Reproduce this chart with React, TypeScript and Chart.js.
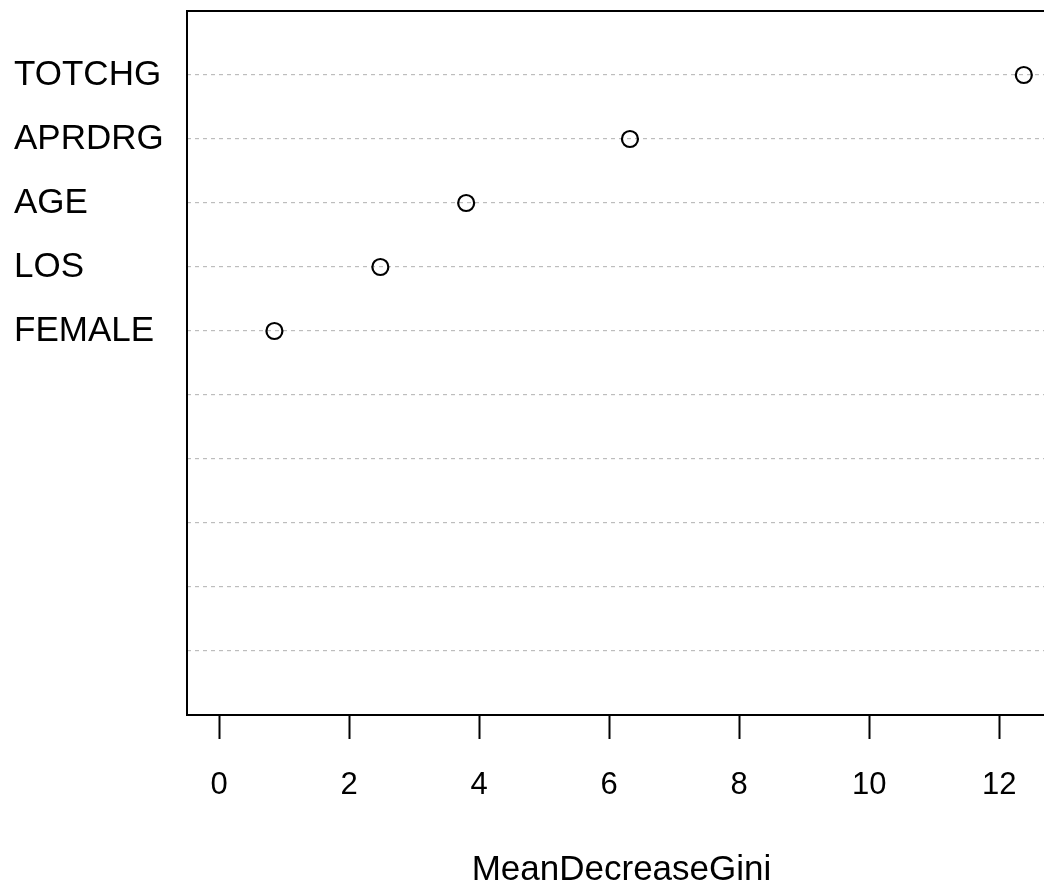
import React, { useEffect, useRef } from "react";
import { Chart, registerables } from "chart.js";

Chart.register(...registerables);

const variables = ["TOTCHG", "APRDRG", "AGE", "LOS", "FEMALE"];
const meanDecreaseGini = [12.38, 6.32, 3.8, 2.48, 0.85];
const rowPositions = [10, 9, 8, 7, 6];
const gridRows = [1, 2, 3, 4, 5, 6, 7, 8, 9, 10];
const xTicks = [0, 2, 4, 6, 8, 10, 12];
const axisTitle = "MeanDecreaseGini";

const FONT = "'Liberation Sans', Arial, Helvetica, sans-serif";

const boxPlugin = {
  id: "boxPlugin",
  afterDraw(chart: any) {
    const { ctx, chartArea } = chart;
    ctx.save();
    ctx.strokeStyle = "#000";
    ctx.lineWidth = 2;
    ctx.strokeRect(chartArea.left, chartArea.top, chartArea.right - chartArea.left, chartArea.bottom - chartArea.top);
    ctx.restore();
  },
};

export default function App() {
  const ref = useRef<HTMLCanvasElement | null>(null);
  useEffect(() => {
    if (!ref.current) return;
    const chart = new Chart(ref.current, {
      type: "scatter",
      data: {
        datasets: [
          {
            data: meanDecreaseGini.map((v, i) => ({ x: v, y: rowPositions[i] })),
            pointRadius: 8,
            pointBorderWidth: 2.2,
            pointBorderColor: "#000",
            pointBackgroundColor: "rgba(0,0,0,0)",
            showLine: false,
          },
        ],
      },
      options: {
        animation: false,
        responsive: false,
        layout: { padding: { left: 14, right: 14, top: 11, bottom: 0 } },
        plugins: { legend: { display: false }, tooltip: { enabled: false } },
        scales: {
          x: {
            type: "linear",
            min: -0.495,
            max: 12.875,
            afterBuildTicks: (s: any) => {
              s.ticks = xTicks.map((v) => ({ value: v }));
            },
            afterFit: (s: any) => {
              s.height = 173;
            },
            grid: { drawOnChartArea: false, drawTicks: true, tickLength: 24, tickColor: "#000", tickWidth: 2 },
            border: { display: false },
            ticks: { color: "#000", font: { family: FONT, size: 31, lineHeight: 1 }, padding: 31, maxRotation: 0 },
            title: {
              display: true,
              text: axisTitle,
              color: "#000",
              font: { family: FONT, size: 35, lineHeight: 1 },
              padding: { top: 0, bottom: 0 },
            },
          },
          y: {
            type: "linear",
            min: 0,
            max: 11,
            afterBuildTicks: (s: any) => {
              s.ticks = gridRows.map((v) => ({ value: v }));
            },
            afterFit: (s: any) => {
              s.width = 173;
            },
            grid: { drawTicks: false, color: "#bdbdbd", lineWidth: 1.2 },
            border: { display: false, dash: [4, 4] },
            ticks: {
              color: "#000",
              crossAlign: "far",
              font: { family: FONT, size: 35, lineHeight: 0.5 },
              padding: 0,
              callback: (v: any) => {
                const i = rowPositions.indexOf(Number(v));
                return i >= 0 ? variables[i] : "";
              },
            },
          },
        },
      },
      plugins: [boxPlugin],
    } as any);
    return () => chart.destroy();
  }, []);
  return (
    <div style={{ position: "fixed", left: 0, top: 0, width: 1044, height: 888, overflow: "hidden", background: "#fff" }}>
      <canvas ref={ref} width={1070} height={888} style={{ display: "block" }} />
    </div>
  );
}
